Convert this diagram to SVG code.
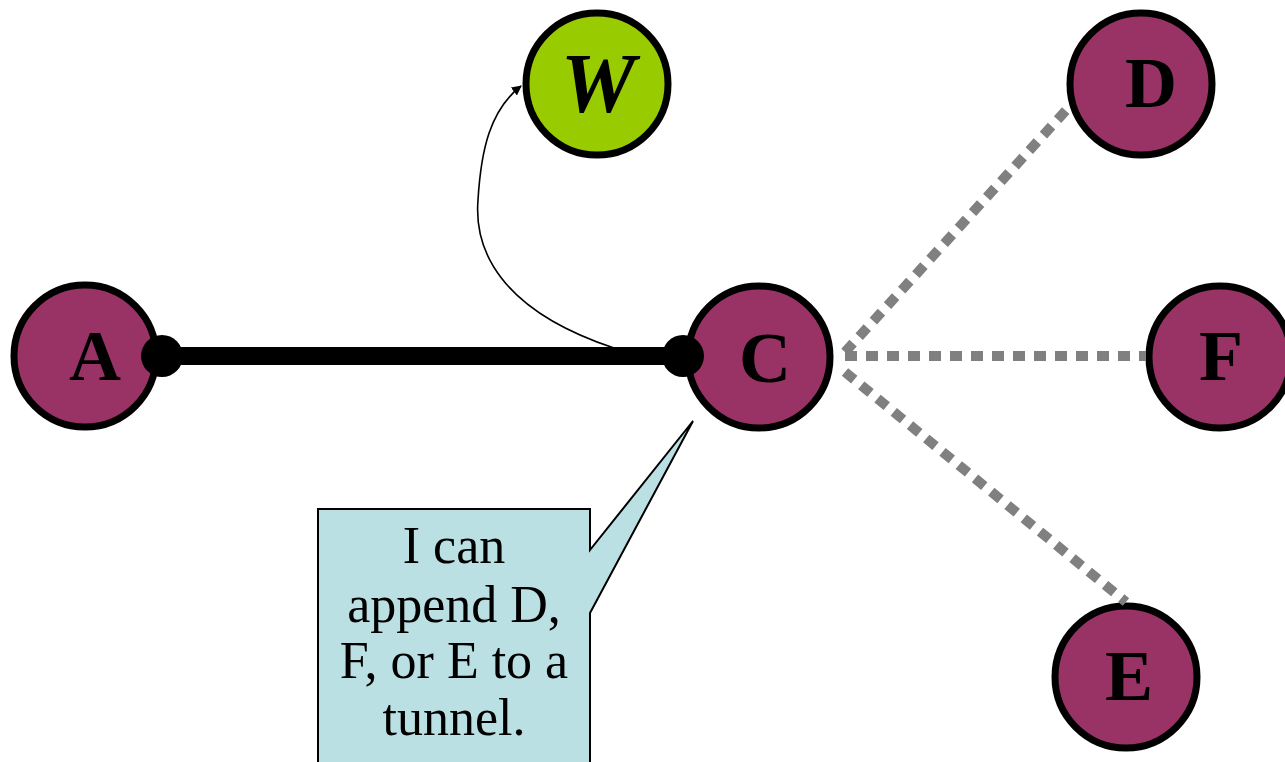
<svg xmlns="http://www.w3.org/2000/svg" width="1285" height="762" viewBox="0 0 1285 762">
  <style>
    .node circle { stroke: #000; stroke-width: 7; }
    .router { fill: #993366; }
    .witness { fill: #99CC00; }
    .label { font-family: "Liberation Serif", serif; font-weight: bold; font-size: 72px; text-anchor: middle; fill: #000; }
    .label.italic { font-style: italic; font-size: 84px; }
    .candidate { stroke: #808080; stroke-width: 10; stroke-dasharray: 12 9; fill: none; }
    .note { font-family: "Liberation Serif", serif; font-size: 52px; text-anchor: middle; fill: #000; }
  </style>
  <defs>
    <marker id="arrow" viewBox="0 0 10 10" refX="9" refY="5" markerWidth="10" markerHeight="10" markerUnits="userSpaceOnUse" orient="auto">
      <path d="M0,0 L10,5 L0,10 z" fill="#000"/>
    </marker>
  </defs>

  <g id="node-A" class="node">
    <circle class="router" cx="85" cy="356" r="71"/>
    <text class="label" x="95" y="380">A</text>
  </g>
  <g id="node-C" class="node">
    <circle class="router" cx="759" cy="357" r="71"/>
    <text class="label" x="765" y="382">C</text>
  </g>
  <g id="node-W" class="node">
    <circle class="witness" cx="597" cy="84" r="71"/>
    <text class="label italic" x="598" y="112">W</text>
  </g>
  <g id="node-D" class="node">
    <circle class="router" cx="1141" cy="84" r="71"/>
    <text class="label" x="1151" y="107">D</text>
  </g>
  <g id="node-F" class="node">
    <circle class="router" cx="1220" cy="357" r="71"/>
    <text class="label" x="1221" y="380">F</text>
  </g>
  <g id="node-E" class="node">
    <circle class="router" cx="1126" cy="677" r="71"/>
    <text class="label" x="1129" y="700">E</text>
  </g>

  <g id="connectors">
    <!-- candidate extensions from C -->
    <line class="candidate" x1="845" y1="352" x2="1070" y2="106"/>
    <line class="candidate" x1="845" y1="356" x2="1146" y2="356"/>
    <line class="candidate" x1="845" y1="372" x2="1126" y2="602"/>
    <!-- established tunnel A-C -->
    <line x1="162" y1="356" x2="683" y2="356" stroke="#000" stroke-width="18"/>
    <circle cx="162" cy="356" r="21" fill="#000"/>
    <circle cx="683" cy="356" r="21" fill="#000"/>
    <!-- report to witness -->
    <path d="M614 348 C 500 310, 474 250, 478 200 C 481 150, 490 110, 521 86" fill="none" stroke="#000" stroke-width="1.6" marker-end="url(#arrow)"/>
  </g>

  <!-- speech bubble from C -->
  <g id="callout">
    <path d="M318 509 L590 509 L590 550 L693 421 L590 613 L590 775 L318 775 Z" fill="#BBE0E3" stroke="#000" stroke-width="2"/>
    <text class="note" x="454" y="563">I can</text>
    <text class="note" x="454" y="622">append D,</text>
    <text class="note" x="454" y="678">F, or E to a</text>
    <text class="note" x="454" y="735">tunnel.</text>
  </g>
</svg>
